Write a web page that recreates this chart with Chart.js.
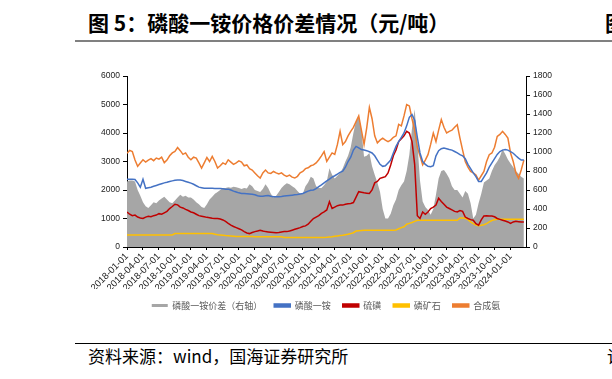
<!DOCTYPE html>
<html>
<head>
<meta charset="utf-8">
<script src="https://cdn.jsdelivr.net/npm/chart.js@4.4.0/dist/chart.umd.min.js"></script>
<style>
  body { margin: 0; width: 612px; height: 379px; background: #fff; position: relative; overflow: hidden; font-family: "Noto Sans CJK SC", sans-serif; }
  .title { position: absolute; left: 88px; top: 11px; font-size: 21px; line-height: 22px; font-weight: bold; color: #000; white-space: nowrap; }
  .title-cut { position: absolute; left: 605px; top: 11px; font-size: 21px; line-height: 22px; font-weight: bold; color: #000; }
  .rule { position: absolute; left: 75px; right: 0; top: 40px; height: 2px; background: #808080; }
  .foot-rule { position: absolute; left: 75px; right: 0; top: 343px; height: 1px; background: #000; }
  .source { position: absolute; left: 88px; top: 346px; font-size: 17px; line-height: 20px; color: #000; white-space: nowrap; }
  .source-cut { position: absolute; left: 607px; top: 346px; font-size: 17px; line-height: 20px; color: #000; }
  #wrap { position: absolute; left: 54px; top: 62px; width: 544px; height: 258px; }
</style>
</head>
<body>
<div class="title">图 5：磷酸一铵价格价差情况（元/吨）</div>
<div class="title-cut">图</div>
<div class="rule"></div>
<div id="wrap"><canvas id="myChart"></canvas></div>
<div class="foot-rule"></div>
<div class="source">资料来源：wind，国海证券研究所</div>
<div class="source-cut">请</div>
<script>
// half-month samples starting 2018-01-01
const seriesNames = ["磷酸一铵价差（右轴）", "磷酸一铵", "硫磺", "磷矿石", "合成氨"];

const spread = [
  690,700,700,690,600,540,470,430,410,440,470,460,490,510,530,500,470,460,490,520,550,530,540,520,
  520,500,470,450,420,410,450,500,530,560,580,600,620,620,630,625,635,630,620,610,620,615,660,640,
  600,590,580,610,660,620,560,520,540,580,620,650,670,660,640,620,590,560,560,640,680,740,720,640,
  620,620,650,690,830,760,720,750,780,830,900,960,1050,1200,1330,1360,1240,950,960,990,850,760,680,580,
  400,300,300,350,440,500,600,650,690,800,970,1250,1450,1100,700,480,420,390,340,400,550,720,800,810,
  770,720,640,600,600,560,520,590,560,460,300,340,460,560,680,700,720,800,860,900,950,1030,980,920,
  880,840,800,770,740,720
];
const map = [
  2380,2380,2380,2370,2250,2100,2380,2060,2080,2100,2130,2160,2190,2220,2250,2270,2300,2320,2340,2350,2350,2330,2300,2270,
  2240,2200,2150,2100,2080,2060,2060,2060,2060,2050,2050,2050,2040,2030,2030,2000,1960,1930,1900,1880,1880,1870,1860,1850,
  1830,1800,1780,1780,1800,1810,1780,1760,1760,1760,1770,1790,1800,1810,1820,1830,1840,1860,1880,1920,1960,1990,2000,2050,
  2120,2180,2250,2320,2380,2450,2500,2560,2620,2660,2800,3000,3150,3400,3530,3480,3420,3400,3380,3340,3300,3200,3050,2900,
  2830,2850,2950,3050,3300,3530,3700,3850,4000,4250,4550,4650,4450,3850,3300,3000,2900,2830,2820,2850,3200,3380,3450,3470,
  3450,3420,3400,3350,3300,3240,3200,3100,2900,2750,2600,2470,2300,2300,2450,2600,2800,2950,3100,3250,3350,3400,3420,3400,
  3350,3290,3200,3120,3050,3050
];
const sulfur = [
  1230,1150,1100,1120,1050,1020,1000,1050,1080,1060,1100,1120,1170,1150,1200,1250,1350,1420,1500,1480,1400,1370,1320,1280,
  1230,1200,1150,1100,1080,1060,1040,1030,1010,1000,1000,980,950,900,830,770,720,680,640,600,540,490,470,510,
  540,560,590,560,540,530,520,510,500,510,530,540,540,560,590,620,650,680,720,740,800,900,1000,1050,
  1100,1180,1230,1300,1590,1350,1400,1450,1470,1470,1500,1520,1530,1560,1750,1940,1920,1900,1890,1880,2000,2250,2300,2410,
  2440,2470,2600,2880,3200,3400,3700,3800,3900,4060,4000,3700,2900,1100,1000,1230,1150,1230,1350,1400,1470,1710,1600,1500,
  1400,1350,1300,1250,1230,1280,1250,1050,1000,960,940,820,765,950,1090,1100,1090,1090,1060,1000,970,940,910,880,
  830,880,900,890,880,880
];
const rock = [
  420,420,420,420,420,420,420,420,420,420,420,420,420,420,420,420,420,420,470,470,470,470,470,470,
  470,470,470,470,470,470,470,470,470,450,430,420,410,400,395,390,380,370,365,365,365,365,365,365,
  360,360,360,360,360,360,360,360,360,360,360,335,335,335,335,335,335,335,335,335,335,335,335,335,
  335,335,335,340,350,360,380,390,400,410,430,450,470,500,560,570,580,590,590,590,590,590,590,590,
  590,590,590,590,590,600,640,680,710,800,830,860,900,940,940,940,940,940,940,940,940,940,940,940,
  940,940,940,940,940,1020,1020,1010,960,880,820,770,750,760,780,820,880,930,960,976,976,976,976,976,
  976,976,976,976,976,976
];
const ammonia = [
  3290,3390,3350,3050,2830,2950,3060,2980,3050,3100,3030,3120,3080,3150,2960,3050,3200,3300,3350,3490,3380,3250,3300,3150,
  3060,3150,3120,2950,2770,2950,3140,3000,3180,3000,2770,2850,2950,2900,3060,2980,2900,2950,3020,2980,2850,2880,2750,2700,
  2600,2500,2420,2600,2700,2600,2580,2650,2600,2560,2600,2520,2480,2520,2450,2420,2480,2600,2650,2750,2780,2850,2880,2950,
  3060,3200,3350,3000,3150,3300,3250,3600,4060,3590,3700,3900,4060,4200,4400,4600,4100,3600,4180,4900,4500,3900,3650,3750,
  3820,3750,3700,3750,3850,3900,4300,4250,4600,5000,4950,4500,4100,3500,3200,2880,3050,3240,3600,4000,3700,4100,4470,4200,
  4000,4060,4100,4200,4290,3820,3400,3000,2800,2650,2600,2530,2350,2500,2650,3000,3240,3300,3500,3880,3950,4060,3950,3820,
  3300,3000,2600,2410,2700,3050
];

// x position in months since 2018-01
const toPoints = (arr) => arr.map((v, i) => ({ x: i / 2, y: v }));

const xFont = { family: "'Liberation Sans', Arial, sans-serif", size: 9.5 };
const yFont = { family: "'Liberation Sans', Arial, sans-serif", size: 8.5 };

const ctx = document.getElementById("myChart");
const chart = new Chart(ctx, {
  type: "line",
  data: {
    datasets: [
      {
        label: seriesNames[0],
        data: toPoints(spread),
        yAxisID: "y1",
        fill: "origin",
        backgroundColor: "#a6a6a6",
        borderColor: "#a6a6a6",
        borderWidth: 0,
        order: 2,
      },
      { label: seriesNames[1], data: toPoints(map), yAxisID: "y", borderColor: "#4472c4", backgroundColor: "#4472c4", order: 1 },
      { label: seriesNames[2], data: toPoints(sulfur), yAxisID: "y", borderColor: "#c00000", backgroundColor: "#c00000", order: 1 },
      { label: seriesNames[3], data: toPoints(rock), yAxisID: "y", borderColor: "#ffc000", backgroundColor: "#ffc000", order: 1 },
      { label: seriesNames[4], data: toPoints(ammonia), yAxisID: "y", borderColor: "#ed7d31", backgroundColor: "#ed7d31", order: 1 },
    ],
  },
  options: {
    responsive: true,
    maintainAspectRatio: false,
    animation: false,
    layout: { padding: { top: 14, left: 0, right: 0, bottom: 0 } },
    elements: {
      point: { radius: 0 },
      line: { borderWidth: 1.5, tension: 0, fill: false },
    },
    plugins: {
      tooltip: { enabled: false },
      legend: {
        position: "bottom",
        labels: {
          boxWidth: 16,
          boxHeight: 3,
          padding: 12,
          color: "#595959",
          font: { family: "'Noto Sans CJK SC'", size: 9 },
          sort: (a, b) => a.datasetIndex - b.datasetIndex,
        },
      },
    },
    scales: {
      x: {
        type: "linear",
        min: 0,
        max: 74.9,
        afterFit: (scale) => { scale.height = 42; },
        border: { color: "#000", width: 1 },
        grid: { drawOnChartArea: false, tickLength: 3, color: "#000" },
        ticks: {
          stepSize: 3,
          includeBounds: false,
          autoSkip: false,
          maxRotation: 45,
          minRotation: 45,
          padding: 1,
          color: "#222",
          font: xFont,
          callback: (v) => {
            const yr = 2018 + Math.floor(v / 12);
            const mo = (v % 12) + 1;
            return yr + "-" + String(mo).padStart(2, "0") + "-01";
          },
        },
      },
      y: {
        position: "left",
        min: 0,
        max: 6000,
        afterFit: (scale) => { scale.width = 73; },
        border: { color: "#000", width: 1 },
        grid: { drawOnChartArea: false, tickLength: 4, color: "#000" },
        ticks: { stepSize: 1000, padding: 3, color: "#222", font: yFont, callback: (v) => String(v) },
      },
      y1: {
        position: "right",
        min: 0,
        max: 1800,
        afterFit: (scale) => { scale.width = 72; },
        border: { color: "#000", width: 1 },
        grid: { drawOnChartArea: false, tickLength: 4, color: "#000" },
        ticks: { stepSize: 200, padding: 3, color: "#222", font: yFont, callback: (v) => String(v) },
      },
    },
  },
});
</script>
</body>
</html>
